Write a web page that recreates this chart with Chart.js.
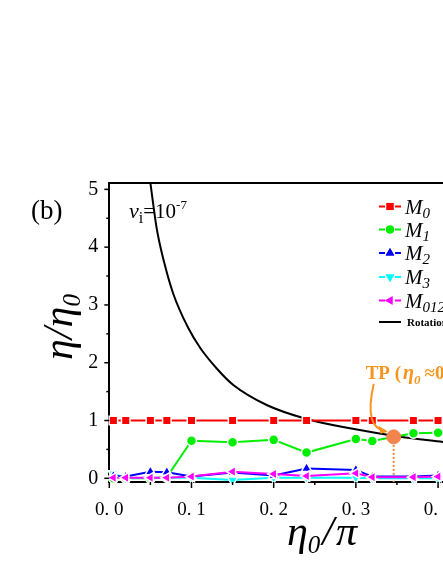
<!DOCTYPE html>
<html><head><meta charset="utf-8">
<script src="https://cdn.jsdelivr.net/npm/chart.js@4/dist/chart.umd.min.js"></script>
<style>html,body{margin:0;padding:0;background:#fff;overflow:hidden}#wrap{width:443px;height:573px;position:relative}</style>
</head><body><div id="wrap"><canvas id="c" width="443" height="573"></canvas></div>
<script>
// ---- data ----
const etaX   = [0.005, 0.02, 0.05, 0.07, 0.1, 0.15, 0.2, 0.24, 0.3, 0.32, 0.37, 0.4];
const M0     = [1, 1, 1, 1, 1, 1, 1, 1, 1, 1, 1, 1];
const M1     = [0.0, 0.0, 0.0, 0.02, 0.65, 0.625, 0.665, 0.445, 0.68, 0.645, 0.78, 0.79];
const M2     = [0.04, 0.03, 0.115, 0.105, 0.03, 0.1, 0.05, 0.17, 0.145, 0.03, 0.03, 0.05];
const M3     = [0.08, 0.0, 0.01, 0.01, 0.01, -0.03, 0.01, 0.01, 0.01, 0.0, 0.0, 0.0];
const M0123  = [0.01, 0.01, 0.01, 0.01, 0.03, 0.115, 0.075, 0.04, 0.087, 0.02, 0.02, 0.03];
const rotX   = [0.0499, 0.0577, 0.0665, 0.0779, 0.0961, 0.1109, 0.1307, 0.1509, 0.1915, 0.240, 0.2928, 0.3537, 0.406];
const rotY   = [5.12, 4.32, 3.75, 3.19, 2.60, 2.25, 1.90, 1.614, 1.268, 1.026, 0.865, 0.72, 0.63];
const tpX    = [0.346];
const tpY    = [0.717];
const yTicks = [0, 1, 2, 3, 4, 5];
const xTicks = [0, 0.1, 0.2, 0.3, 0.4];
const seriesNames = ['M0', 'M1', 'M2', 'M3', 'M0123'];

const pts = (xs, ys) => xs.map((x, i) => ({x, y: ys[i]}));
const SERIF = "'Liberation Serif', 'Times New Roman', serif";
Chart.defaults.font.family = SERIF;
Chart.defaults.color = '#000';

const styles = [
  {c:'#ff0000', ps:'rect', r:6, rot:0},
  {c:'#00ee00', ps:'circle', r:5, rot:0},
  {c:'#0000ff', ps:'triangle', r:6, rot:0},
  {c:'#00ffff', ps:'triangle', r:6, rot:180},
  {c:'#ff00ff', ps:'triangle', r:6, rot:270}
];
const seriesData = [M0, M1, M2, M3, M0123];
const orders = [4, 3, 1, 2, 0];

const datasets = seriesData.map((ys, i) => ({
  label: seriesNames[i], data: pts(etaX, ys), showLine: true,
  borderColor: styles[i].c, borderWidth: 2, backgroundColor: styles[i].c,
  pointStyle: styles[i].ps, pointRadius: styles[i].r, pointRotation: styles[i].rot,
  pointBackgroundColor: styles[i].c, pointBorderColor: '#ffffff', pointBorderWidth: 1.5,
  order: orders[i], clip: false
}));
datasets.push({
  label: 'Rotation', data: pts(rotX, rotY), showLine: true, borderColor: '#000',
  borderWidth: 2, pointRadius: 0, cubicInterpolationMode: 'monotone', order: 6, clip: false
});
datasets.push({
  label: 'TPline', data: [{x: tpX[0], y: tpY[0]}, {x: tpX[0], y: -0.064}], showLine: true,
  borderColor: '#f7883a', borderWidth: 2, borderDash: [2, 2], pointRadius: 0, order: 5
});
datasets.push({
  label: 'TP', data: pts(tpX, tpY), showLine: false, pointRadius: 7,
  pointBackgroundColor: '#f4844e', pointBorderColor: '#f4844e', order: -1, clip: false
});

function runs(ctx, x, y, parts) {
  let cx = x;
  for (const p of parts) {
    ctx.font = p.f;
    ctx.fillText(p.t, cx, y + (p.dy || 0));
    cx += ctx.measureText(p.t).width + (p.sp || 0);
  }
  return cx;
}
function runsWidth(ctx, parts) {
  let w = 0;
  for (const p of parts) { ctx.font = p.f; w += ctx.measureText(p.t).width + (p.sp || 0); }
  return w;
}

const decor = {
  id: 'decor',
  afterDraw(chart) {
    const ctx = chart.ctx, a = chart.chartArea;
    const xs = chart.scales.x, ys = chart.scales.y;
    ctx.save();
    ctx.strokeStyle = '#000'; ctx.fillStyle = '#000';
    // top frame
    ctx.lineWidth = 2;
    ctx.beginPath(); ctx.moveTo(a.left - 1, a.top); ctx.lineTo(a.right + 2, a.top); ctx.stroke();
    // y ticks (major + minor)
    ctx.lineWidth = 1.5;
    for (let k = 0; k <= 10; k++) {
      const v = k * 0.5, py = ys.getPixelForValue(v), L = (k % 2 === 0) ? 5 : 3;
      ctx.beginPath(); ctx.moveTo(a.left, py); ctx.lineTo(a.left - L, py); ctx.stroke();
    }
    for (let k = 0; k <= 8; k++) {
      const v = k * 0.05, px = xs.getPixelForValue(v), L = (k % 2 === 0) ? 6 : 3;
      ctx.beginPath(); ctx.moveTo(px, a.bottom); ctx.lineTo(px, a.bottom + L); ctx.stroke();
    }
    // y title
    ctx.save();
    ctx.translate(62, 327); ctx.rotate(-Math.PI / 2);
    ctx.textBaseline = 'alphabetic';
    const yt = [{t:'η', f:'italic 42px ' + SERIF}, {t:'/', f:'italic 42px ' + SERIF}, {t:'η', f:'italic 42px ' + SERIF}, {t:'0', f:'italic 25px ' + SERIF, dy:8}];
    runs(ctx, -runsWidth(ctx, yt) / 2, 10, yt);
    ctx.restore();
    // x title
    const xt = [{t:'η', f:'italic 42px ' + SERIF}, {t:'0', f:'italic 25px ' + SERIF, dy:8, sp:2}, {t:'/', f:'italic 42px ' + SERIF, sp:2}, {t:'π', f:'italic 42px ' + SERIF}];
    runs(ctx, 322 - runsWidth(ctx, xt) / 2, 545, xt);
    // (b)
    ctx.font = '27px ' + SERIF;
    ctx.fillText('(b)', 31, 219);
    // v_i = 10^-7
    runs(ctx, 129, 218, [
      {t:'v', f:'italic 22px ' + SERIF},
      {t:'i', f:'16px ' + SERIF, dy:5},
      {t:'=10', f:'21px ' + SERIF},
      {t:'-7', f:'13px ' + SERIF, dy:-9}
    ]);
    // legend
    const rowY = [206.5, 229.5, 253, 277, 300.5];
    const hp = Chart.helpers;
    for (let i = 0; i < 5; i++) {
      const y = rowY[i], st = styles[i];
      ctx.strokeStyle = st.c; ctx.fillStyle = st.c; ctx.lineWidth = 2;
      ctx.beginPath(); ctx.moveTo(379, y); ctx.lineTo(385, y); ctx.moveTo(395, y); ctx.lineTo(401, y); ctx.stroke();
      hp.drawPoint(ctx, {pointStyle: st.ps, radius: st.r - 1, rotation: st.rot, borderWidth: 0}, 390, y);
      ctx.fill();
      ctx.fillStyle = '#000';
      const name = seriesNames[i];
      runs(ctx, 405, y + 7, [{t:'M', f:'italic 21px ' + SERIF}, {t:name.slice(1), f:'italic 15px ' + SERIF, dy:4}]);
    }
    ctx.strokeStyle = '#000'; ctx.lineWidth = 2;
    ctx.beginPath(); ctx.moveTo(379, 322); ctx.lineTo(401, 322); ctx.stroke();
    ctx.fillStyle = '#000'; ctx.font = 'bold 11px ' + SERIF;
    ctx.fillText('Rotation', 407, 326);
    // TP annotation
    const tpx = xs.getPixelForValue(tpX[0]), tpy = ys.getPixelForValue(tpY[0]);
    ctx.fillStyle = '#f7941d';
    runs(ctx, tpx - 28, tpy - 58, [
      {t:'TP (', f:'bold 19px ' + SERIF, sp:2},
      {t:'η', f:'bold italic 20px ' + SERIF},
      {t:'0', f:'bold italic 13px ' + SERIF, dy:5, sp:4},
      {t:'≈0.35)', f:'bold 19px ' + SERIF}
    ]);
    // curved arrow
    ctx.strokeStyle = '#f7941d'; ctx.lineWidth = 2;
    const sx = tpx - 20, sy = tpy - 53, ex = tpx - 8, ey = tpy - 6;
    ctx.beginPath(); ctx.moveTo(sx, sy); ctx.quadraticCurveTo(tpx - 30, tpy - 8, ex, ey); ctx.stroke();
    ctx.beginPath();
    ctx.moveTo(ex + 2, ey + 1); ctx.lineTo(ex - 7, ey - 5); ctx.lineTo(ex - 5, ey + 3); ctx.closePath();
    ctx.fill();
    ctx.restore();
  }
};

new Chart(document.getElementById('c'), {
  type: 'scatter',
  data: {datasets},
  options: {
    responsive: false, animation: false, devicePixelRatio: 1,
    layout: {autoPadding: false, padding: {left: 0, right: 0, top: 183, bottom: 0}},
    plugins: {legend: {display: false}, tooltip: {enabled: false}},
    elements: {line: {tension: 0}},
    scales: {
      x: {
        type: 'linear', min: 0, max: 0.406,
        afterFit: s => { s.height = 91; s.paddingRight = 0; s.paddingLeft = 0; },
        afterBuildTicks: s => { s.ticks = xTicks.map(v => ({value: v})); },
        grid: {display: false, drawTicks: false},
        border: {display: true, color: '#000', width: 2},
        ticks: {padding: 17, font: {size: 19, family: SERIF}, color: '#000', maxRotation: 0, autoSkip: false,
          callback: v => '0. ' + Math.round(v * 10)}
      },
      y: {
        type: 'linear', min: -0.064, max: 5.11,
        afterFit: s => { s.width = 109.3; s.paddingTop = 0; s.paddingBottom = 0; },
        afterBuildTicks: s => { s.ticks = yTicks.map(v => ({value: v})); },
        grid: {display: false, drawTicks: false},
        border: {display: true, color: '#000', width: 2},
        ticks: {padding: 11, font: {size: 20, family: SERIF}, color: '#000', autoSkip: false,
          callback: v => String(Math.round(v))}
      }
    }
  },
  plugins: [decor]
});
</script></body></html>
